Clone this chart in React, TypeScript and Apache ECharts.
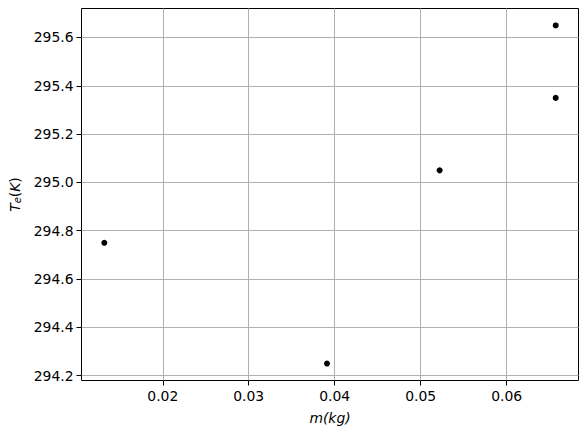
import { useEffect, useRef } from "react";
import * as echarts from "echarts";

// measured points (mass in kg, equilibrium temperature in K)
const massKg = [0.0132, 0.0391, 0.0522, 0.0657, 0.0657];
const tempK = [294.75, 294.25, 295.05, 295.65, 295.35];

const xTicks = [0.02, 0.03, 0.04, 0.05, 0.06];
const yTicks = [294.2, 294.4, 294.6, 294.8, 295.0, 295.2, 295.4, 295.6];

const xRange = [0.01055, 0.06835];
const yRange = [294.18, 295.72];

const FONT = "DejaVu Sans";
const FS = 13.9;

function App() {
  const chartRef = useRef<HTMLDivElement>(null);

  useEffect(() => {
    if (!chartRef.current) return;
    const chart = echarts.init(chartRef.current, null, { renderer: "svg" });

    const points = massKg.map((m, i) => [m, tempK[i]]);

    const option = {
      animation: false,
      backgroundColor: "#fff",
      grid: {
        // half-pixel offsets keep the 1px frame crisp
        left: 81.5,
        right: 9.5,
        top: 8.5,
        bottom: 55.5,
        show: true,
        borderColor: "#000",
        borderWidth: 1,
        outerBoundsMode: "none",
      },
      xAxis: {
        type: "value",
        min: xRange[0],
        max: xRange[1],
        name: "m(kg)",
        nameLocation: "middle",
        nameGap: 30,
        nameTextStyle: {
          fontFamily: FONT,
          fontStyle: "italic",
          fontSize: FS,
          color: "#000",
        },
        axisLine: { show: false },
        axisTick: {
          show: true,
          length: 5,
          customValues: xTicks,
          lineStyle: { color: "#000", width: 1 },
        },
        axisLabel: {
          customValues: xTicks,
          margin: 8,
          fontFamily: FONT,
          fontSize: FS,
          color: "#000",
          formatter: (v: number) => v.toFixed(2),
        },
        splitLine: {
          show: true,
          customValues: xTicks,
          lineStyle: { color: "#b0b0b0", width: 1 },
        },
      },
      yAxis: {
        type: "value",
        min: yRange[0],
        max: yRange[1],
        name: "{i|T}{s|e}{n|(}{i|K}{n|)}",
        nameLocation: "middle",
        nameGap: 59,
        nameRotate: 90,
        nameTextStyle: {
          color: "#000",
          rich: {
            i: { fontFamily: FONT, fontStyle: "italic", fontSize: FS, color: "#000" },
            n: { fontFamily: FONT, fontSize: FS, color: "#000" },
            s: {
              fontFamily: FONT,
              fontStyle: "italic",
              fontSize: 10,
              color: "#000",
              verticalAlign: "bottom",
              padding: [6, 0, 0, 0],
            },
          },
        },
        axisLine: { show: false },
        axisTick: {
          show: true,
          length: 5,
          customValues: yTicks,
          lineStyle: { color: "#000", width: 1 },
        },
        axisLabel: {
          customValues: yTicks,
          margin: 8,
          fontFamily: FONT,
          fontSize: FS,
          color: "#000",
          formatter: (v: number) => v.toFixed(1),
        },
        splitLine: {
          show: true,
          customValues: yTicks,
          lineStyle: { color: "#b0b0b0", width: 1 },
        },
      },
      series: [
        {
          type: "scatter",
          data: points,
          symbol: "circle",
          symbolSize: 6,
          itemStyle: { color: "#000", opacity: 1 },
        },
      ],
    };

    chart.setOption(option);

    return () => {
      chart.dispose();
    };
  }, []);

  return (
    <div
      ref={chartRef}
      style={{ position: "fixed", left: 0, top: 0, width: "588px", height: "436px" }}
    />
  );
}

export default App;
